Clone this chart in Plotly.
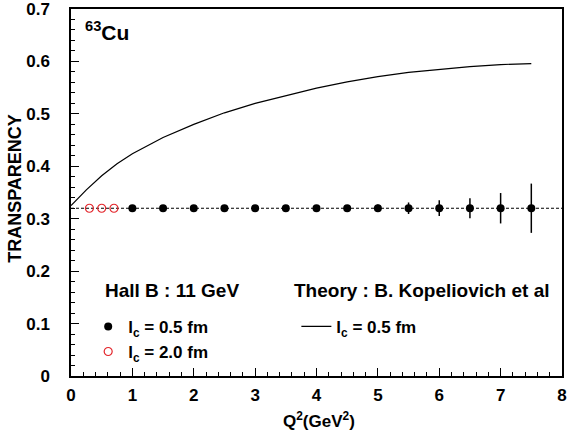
import plotly.graph_objects as go

# measured transparency, Hall B 11 GeV, 63Cu
q2_lc05 = [1.0, 1.5, 2.0, 2.5, 3.0, 3.5, 4.0, 4.5, 5.0, 5.5, 6.0, 6.5, 7.0, 7.5]
t_lc05 = [0.32] * 14
err_lc05 = [0.002, 0.002, 0.002, 0.003, 0.003, 0.003, 0.004, 0.004, 0.007, 0.011, 0.015, 0.019, 0.029, 0.047]

q2_lc20 = [0.3, 0.5, 0.7]
t_lc20 = [0.32, 0.32, 0.32]

# theory curve, Kopeliovich et al, l_c = 0.5 fm
q2_theory = [0.0, 0.25, 0.5, 0.75, 1.0, 1.5, 2.0, 2.5, 3.0, 3.5, 4.0, 4.5, 5.0, 5.5, 6.0, 6.5, 7.0, 7.5]
t_theory = [0.325, 0.355, 0.382, 0.405, 0.424, 0.455, 0.480, 0.502, 0.520, 0.535, 0.549, 0.561,
            0.571, 0.579, 0.585, 0.590, 0.594, 0.596]

# Glauber reference level
q2_ref = [0, 8]
t_ref = [0.32, 0.32]

y_tick_vals = [0, 0.1, 0.2, 0.3, 0.4, 0.5, 0.6, 0.7]
y_tick_text = ["0", "0.1", "0.2", "0.3", "0.4", "0.5", "0.6", "0.7"]

FONT = "Liberation Sans, Arial, sans-serif"
bold = lambda s: dict(family=FONT, size=s, color="black", weight="bold")

fig = go.Figure()

fig.add_trace(go.Scatter(
    x=q2_ref, y=t_ref, mode="lines", showlegend=False,
    line=dict(color="black", width=1.2, dash="3px,2px"),
))

fig.add_trace(go.Scatter(
    x=q2_theory, y=t_theory, mode="lines",
    name="l<sub>c</sub> = 0.5 fm", legend="legend2",
    line=dict(color="black", width=1.2),
))

fig.add_trace(go.Scatter(
    x=q2_lc05, y=t_lc05, mode="markers",
    name="l<sub>c</sub> = 0.5 fm",
    marker=dict(color="black", size=8, symbol="circle"),
    error_y=dict(type="data", array=err_lc05, color="black", thickness=1.5, width=0),
))

fig.add_trace(go.Scatter(
    x=q2_lc20, y=t_lc20, mode="markers",
    name="l<sub>c</sub> = 2.0 fm",
    marker=dict(color="#e3262c", size=8, symbol="circle-open", line=dict(width=1.2)),
))

fig.update_layout(
    width=567, height=438,
    paper_bgcolor="white", plot_bgcolor="white",
    margin=dict(l=71, r=0, t=5, b=62),
    font=bold(17),
    xaxis=dict(
        range=[0, 8.0001], dtick=1, showgrid=False, zeroline=False,
        showline=True, linecolor="black", linewidth=1.5, mirror=True,
        ticks="inside", ticklen=8, tickwidth=1.2, tickcolor="black",
        minor=dict(dtick=0.2, ticks="inside", ticklen=4, tickwidth=1, tickcolor="black"),
        tickfont=bold(17), ticklabelstandoff=3, ticklabeloverflow="allow",
    ),
    yaxis=dict(
        range=[0, 0.70001], tickvals=y_tick_vals, ticktext=y_tick_text,
        showgrid=False, zeroline=False,
        showline=True, linecolor="black", linewidth=1.5, mirror=True,
        ticks="inside", ticklen=8, tickwidth=1.2, tickcolor="black",
        minor=dict(dtick=0.02, ticks="inside", ticklen=4, tickwidth=1, tickcolor="black"),
        tickfont=bold(17), ticklabelstandoff=16, ticklabeloverflow="allow",
    ),
    legend=dict(
        x=0.035, y=0.183, xanchor="left", yanchor="top",
        bgcolor="rgba(0,0,0,0)", font=bold(17), tracegroupgap=4,
    ),
    legend2=dict(
        x=0.459, y=0.183, xanchor="left", yanchor="top",
        bgcolor="rgba(0,0,0,0)", font=bold(17),
    ),
    annotations=[
        dict(text="<sup>63</sup>Cu", x=0.024, y=0.94, xref="paper", yref="paper",
             xanchor="left", yanchor="middle", showarrow=False, font=bold(21)),
        dict(text="Hall B : 11 GeV", x=0.065, y=0.233, xref="paper", yref="paper",
             xanchor="left", yanchor="middle", showarrow=False, font=bold(19)),
        dict(text="Theory : B. Kopeliovich et al", x=0.451, y=0.233, xref="paper", yref="paper",
             xanchor="left", yanchor="middle", showarrow=False, font=bold(19)),
        dict(text="TRANSPARENCY", x=-0.114, y=0.51, xref="paper", yref="paper",
             xanchor="center", yanchor="middle", textangle=-90, showarrow=False, font=bold(18)),
        dict(text="Q<sup>2</sup>(GeV<sup>2</sup>)", x=0.506, y=-0.119, xref="paper", yref="paper",
             xanchor="center", yanchor="middle", showarrow=False, font=bold(17)),
    ],
)

# the page opens at exactly the figure size, so drop the browser's default body margin
fig.write_html(
    "out.html",
    config={"displayModeBar": False},
    post_script="document.body.style.margin='0';",
)
